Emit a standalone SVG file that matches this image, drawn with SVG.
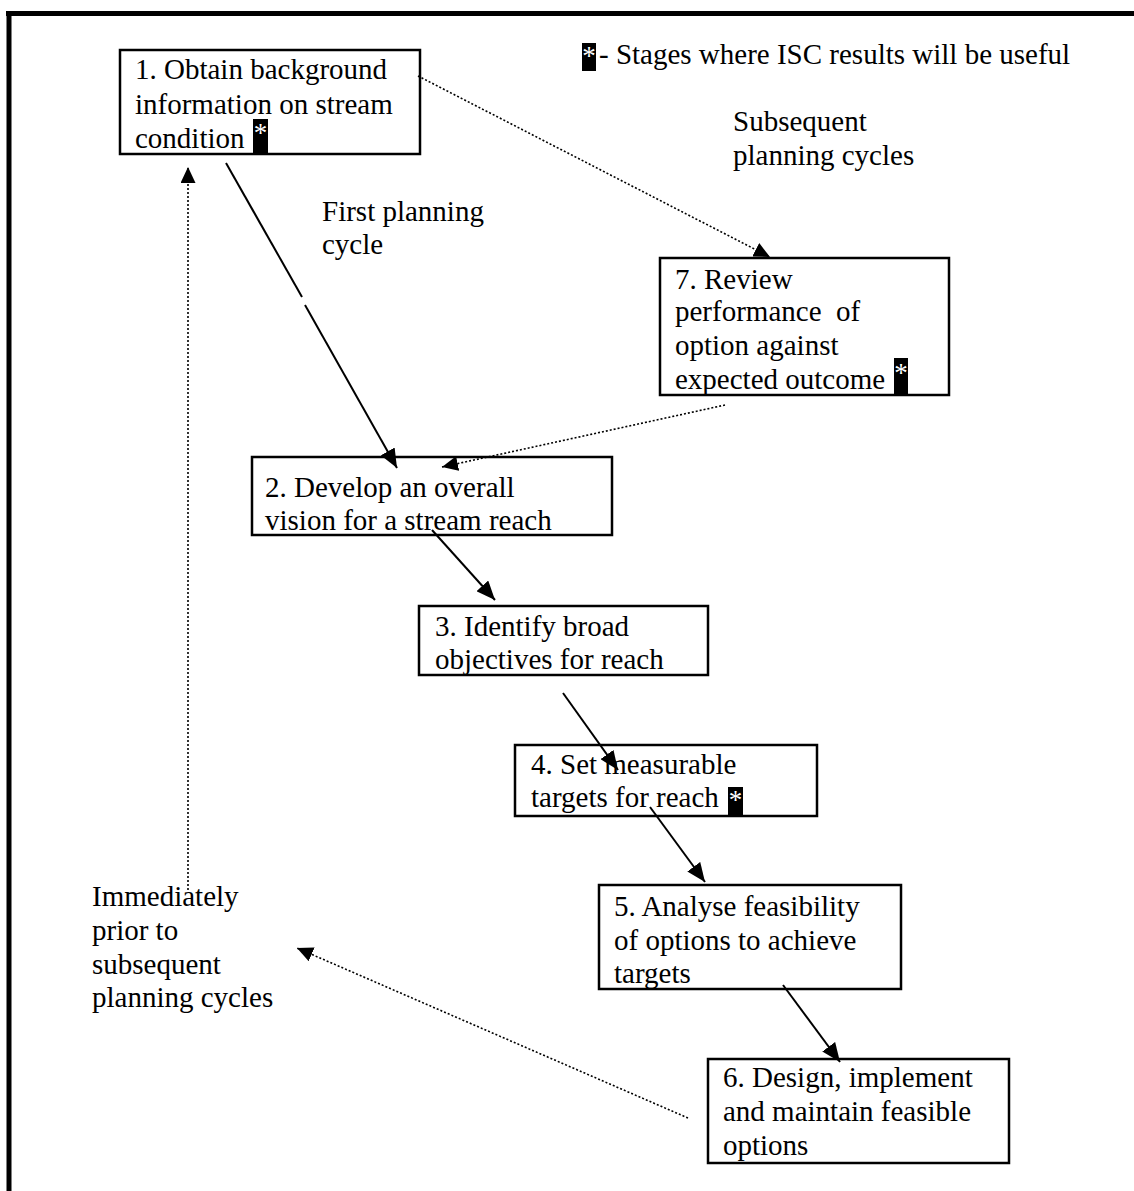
<svg xmlns="http://www.w3.org/2000/svg" width="1134" height="1191" viewBox="0 0 1134 1191">
<defs>
<style>
.t{font-family:"Liberation Serif","Times New Roman",serif;font-size:29px;fill:#000}
.st{font-family:"Liberation Serif","Times New Roman",serif;font-size:27px;fill:#fff}
.box{fill:#fff;stroke:#000;stroke-width:2.5}
.solid{fill:none;stroke:#000;stroke-width:2}
.dot{fill:none;stroke:#000;stroke-width:1.6;stroke-dasharray:2,2}
</style>
<marker id="ah" markerUnits="userSpaceOnUse" markerWidth="20" markerHeight="16" refX="19" refY="8" orient="auto">
<path d="M0,0 L19,8 L0,16 z" fill="#000"/>
</marker>
<marker id="ahd" markerUnits="userSpaceOnUse" markerWidth="17" markerHeight="15" refX="16" refY="7.5" orient="auto">
<path d="M0,0 L16,7.5 L0,15 z" fill="#000"/>
</marker>
</defs>
<rect x="0" y="0" width="1134" height="1191" fill="#fff"/>
<g id="frame">
<line x1="6" y1="13.5" x2="1134" y2="13.5" stroke="#000" stroke-width="5"/>
<line x1="9" y1="11" x2="9" y2="1191" stroke="#000" stroke-width="5"/>
</g>
<g id="legend">
<rect x="582" y="43" width="14" height="28" fill="#000"/>
<text class="st" x="589" y="65" text-anchor="middle">*</text>
<text class="t" x="599" y="64">- Stages where ISC results will be useful</text>
</g>
<g id="label-subsequent">
<text class="t" x="733" y="131">Subsequent</text>
<text class="t" x="733" y="165">planning cycles</text>
</g>
<g id="label-first">
<text class="t" x="322" y="221">First planning</text>
<text class="t" x="322" y="254">cycle</text>
</g>
<g id="label-immediately">
<text class="t" x="92" y="906">Immediately</text>
<text class="t" x="92" y="940">prior to</text>
<text class="t" x="92" y="974">subsequent</text>
<text class="t" x="92" y="1007">planning cycles</text>
</g>
<g id="node1">
<rect class="box" x="120" y="50" width="300" height="104"/>
<text class="t" x="135" y="79">1. Obtain background</text>
<text class="t" x="135" y="114">information on stream</text>
<text class="t" x="135" y="148">condition</text>
<rect x="253" y="119" width="15" height="35" fill="#000"/>
<text class="st" x="260.5" y="142" text-anchor="middle">*</text>
</g>
<g id="node7">
<rect class="box" x="660" y="258" width="289" height="137"/>
<text class="t" x="675" y="289">7. Review</text>
<text class="t" x="675" y="321" xml:space="preserve">performance  of</text>
<text class="t" x="675" y="355">option against</text>
<text class="t" x="675" y="389">expected outcome</text>
<rect x="894" y="358" width="14" height="37" fill="#000"/>
<text class="st" x="901" y="382" text-anchor="middle">*</text>
</g>
<g id="node2">
<rect class="box" x="252" y="457" width="360" height="78"/>
<text class="t" x="265" y="497">2. Develop an overall</text>
<text class="t" x="265" y="530">vision for a stream reach</text>
</g>
<g id="node3">
<rect class="box" x="419" y="606" width="289" height="69"/>
<text class="t" x="435" y="636">3. Identify broad</text>
<text class="t" x="435" y="669">objectives for reach</text>
</g>
<g id="node4">
<rect class="box" x="515" y="745" width="302" height="71"/>
<text class="t" x="531" y="774">4. Set measurable</text>
<text class="t" x="531" y="807">targets for reach</text>
<rect x="728" y="787" width="15" height="29" fill="#000"/>
<text class="st" x="735.5" y="809" text-anchor="middle">*</text>
</g>
<g id="node5">
<rect class="box" x="599" y="885" width="302" height="104"/>
<text class="t" x="614" y="916">5. Analyse feasibility</text>
<text class="t" x="614" y="950">of options to achieve</text>
<text class="t" x="614" y="983">targets</text>
</g>
<g id="node6">
<rect class="box" x="708" y="1059" width="301" height="104"/>
<text class="t" x="723" y="1087">6. Design, implement</text>
<text class="t" x="723" y="1121">and maintain feasible</text>
<text class="t" x="723" y="1155">options</text>
</g>
<g id="connectors">
<line class="solid" x1="226" y1="163" x2="302" y2="297"/>
<line class="solid" x1="305" y1="305" x2="397" y2="468" marker-end="url(#ah)"/>
<line class="dot" x1="418" y1="76" x2="770" y2="257" marker-end="url(#ahd)"/>
<line class="dot" x1="725" y1="405" x2="442" y2="467" marker-end="url(#ahd)"/>
<line class="solid" x1="432" y1="530" x2="495" y2="600" marker-end="url(#ah)"/>
<line class="solid" x1="563" y1="693" x2="618" y2="770" marker-end="url(#ah)"/>
<line class="solid" x1="650" y1="807" x2="705" y2="882" marker-end="url(#ah)"/>
<line class="solid" x1="783" y1="985" x2="840" y2="1062" marker-end="url(#ah)"/>
<line class="dot" x1="688" y1="1118" x2="297" y2="948" marker-end="url(#ahd)"/>
<line class="dot" x1="188" y1="890" x2="188" y2="167" marker-end="url(#ahd)"/>
</g>
</svg>
